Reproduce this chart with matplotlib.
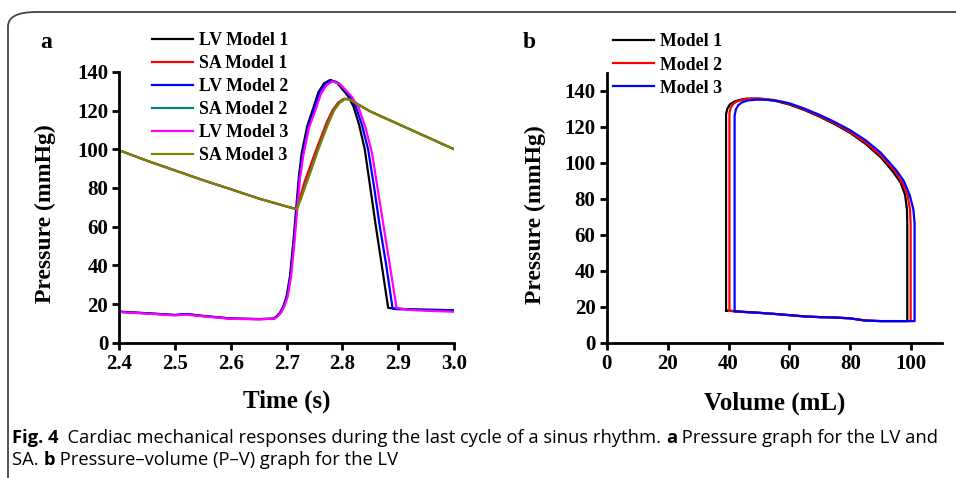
import matplotlib
matplotlib.use("Agg")
import matplotlib.pyplot as plt
from matplotlib.patches import FancyBboxPatch

plt.rcParams['font.family'] = 'Liberation Serif'
plt.rcParams['font.weight'] = 'bold'

# panel a: pressure vs time
t_lv1 = [2.40, 2.45, 2.50, 2.52, 2.55, 2.60, 2.65, 2.676, 2.682, 2.688, 2.694, 2.700, 2.706, 2.712, 2.717,
         2.722, 2.727, 2.737, 2.748, 2.757, 2.767, 2.778, 2.79, 2.80, 2.81, 2.82, 2.83, 2.84, 2.85, 2.86,
         2.87, 2.882, 2.90, 2.95, 3.00]
p_lv1 = [16.0, 15.2, 14.3, 14.8, 13.8, 12.5, 12.2, 12.4, 13.6, 15.5, 18.8, 24, 34.4, 52, 69,
         86, 98, 112, 121.5, 129.5, 134, 135.8, 134.5, 131, 127.5, 122, 112.5, 100, 80, 60,
         41, 18, 17.5, 17.0, 16.8]
t_lv2 = [2.40, 2.45, 2.50, 2.52, 2.55, 2.60, 2.65, 2.677, 2.683, 2.689, 2.695, 2.701, 2.707, 2.713, 2.718,
         2.723, 2.729, 2.739, 2.750, 2.759, 2.769, 2.780, 2.792, 2.803, 2.813, 2.824, 2.835, 2.846, 2.857, 2.867,
         2.878, 2.890, 2.90, 2.95, 3.00]
p_lv2 = [16.0, 15.2, 14.3, 14.8, 13.8, 12.5, 12.2, 12.4, 13.6, 15.5, 18.8, 24, 34.4, 52, 69,
         86, 98, 112, 121.5, 129.3, 133.8, 135.5, 134.3, 131, 127.5, 122, 112.5, 100, 80, 60,
         41, 17.6, 17.3, 17.0, 16.8]
t_lv3 = [2.40, 2.45, 2.50, 2.52, 2.55, 2.60, 2.65, 2.678, 2.684, 2.690, 2.696, 2.702, 2.708, 2.714, 2.719,
         2.724, 2.730, 2.740, 2.752, 2.761, 2.771, 2.782, 2.795, 2.806, 2.817, 2.829, 2.841, 2.853, 2.864, 2.875,
         2.885, 2.897, 2.92, 2.95, 3.00]
p_lv3 = [15.8, 15.0, 14.1, 14.5, 13.6, 12.3, 12.1, 12.4, 13.6, 15.5, 18.8, 24, 34.4, 52, 69,
         85, 97, 111, 120.5, 128.3, 133, 135, 133.8, 130.5, 127, 121.5, 111.5, 98, 78, 58,
         40, 18, 17.0, 16.5, 16.0]
t_sa1 = [2.40, 2.45, 2.50, 2.55, 2.60, 2.65, 2.70, 2.718, 2.723, 2.732, 2.742, 2.752, 2.762, 2.772, 2.782,
         2.792, 2.802, 2.812, 2.85, 2.90, 2.95, 3.00]
p_sa1 = [99.4, 94, 89, 84, 79.3, 74.5, 70.4, 69, 74, 83, 91, 99, 106.5, 114, 120, 124, 126, 125.8,
         119.5, 113, 106.5, 100]
t_sa2 = [2.40, 2.45, 2.50, 2.55, 2.60, 2.65, 2.70, 2.718, 2.725, 2.734, 2.744, 2.754, 2.764, 2.774, 2.784,
         2.794, 2.804, 2.812, 2.85, 2.90, 2.95, 3.00]
p_sa2 = [99.4, 94, 89, 84, 79.3, 74.5, 70.4, 69, 74, 82, 90, 98.5, 106, 113.5, 120, 124, 126, 125.8,
         119.5, 113, 106.5, 100]
t_sa3 = [2.40, 2.45, 2.50, 2.55, 2.60, 2.65, 2.70, 2.718, 2.725, 2.735, 2.745, 2.755, 2.765, 2.775, 2.785,
         2.795, 2.805, 2.812, 2.85, 2.90, 2.95, 3.00]
p_sa3 = [99.4, 94, 89, 84, 79.3, 74.5, 70.4, 69, 74, 82, 90, 98.5, 106, 113.5, 120, 124, 126, 125.8,
         119.5, 113, 106.5, 100]

# panel b: P-V loops
v_m1 = [39.2, 39.2, 39.6, 40.5, 42, 44, 46, 50, 55, 60, 65, 70, 75, 80, 85, 90, 94, 96.5, 98, 98.6, 98.7,
        98.7, 95, 90, 85, 80, 75, 70, 65, 60, 55, 50, 45, 42, 39.2]
p_m1 = [17.8, 127, 130, 132.5, 134, 135, 135.6, 135.6, 134.5, 132.3, 129.2, 125.5, 121.3, 116.5, 110.5,
        103, 95, 89, 82, 74, 66, 12, 12, 12, 12.3, 13.5, 14, 14.2, 14.6, 15.3, 16, 16.6, 17.1, 17.5, 17.8]
v_m2 = [40.3, 40.3, 40.7, 41.6, 43, 45, 47, 51, 55, 60, 65, 70, 75, 80, 85, 90, 94.5, 97, 98.8, 99.6, 99.8,
        99.8, 95, 90, 85, 80, 75, 70, 65, 60, 55, 50, 45, 42, 40.3]
p_m2 = [17.8, 127.5, 130.5, 132.8, 134.2, 135.1, 135.5, 135.5, 134.8, 132.6, 129.6, 125.9, 121.8, 117,
        111.2, 104, 95.5, 89, 82, 74, 66, 12, 12, 12, 12.3, 13.5, 14, 14.2, 14.6, 15.3, 16, 16.6, 17.1, 17.5, 17.8]
v_m3 = [42, 42, 42.4, 43.2, 44.5, 46.5, 49, 52, 56, 60, 65, 70, 75, 80, 85, 90, 95, 97.5, 99.5, 100.7, 101.1,
        101.1, 95, 90, 85, 80, 75, 70, 65, 60, 55, 50, 45, 42]
p_m3 = [17.5, 126, 129.5, 132, 133.6, 134.6, 135, 135, 134.4, 133, 130, 126.5, 122.5, 118, 112.5, 105.5,
        96, 90, 82, 74, 66, 12, 12, 12, 12.3, 13.5, 14, 14.2, 14.6, 15.3, 16, 16.6, 17.1, 17.5]

xticks_a = [2.4, 2.5, 2.6, 2.7, 2.8, 2.9, 3.0]
xticks_b = [0, 20, 40, 60, 80, 100]
yticks = [0, 20, 40, 60, 80, 100, 120, 140]

fig = plt.figure(figsize=(9.56, 4.78), dpi=100)
W, H = 956, 478

# rounded frame around the figure
frame = FancyBboxPatch((8 / W, -0.2), 1.2, 1.2 - 12 / H,
                       boxstyle="round,pad=0,rounding_size=0.03", transform=fig.transFigure,
                       facecolor='none', edgecolor='#444444', linewidth=1.3)
fig.patches.append(frame)

ax1 = fig.add_axes([119.3 / W, 1 - 342.7 / H, (454 - 119.3) / W, (342.7 - 71.8) / H])
ax2 = fig.add_axes([606.7 / W, 1 - 342.7 / H, (941.7 - 606.7) / W, (342.7 - 72.7) / H])

lw = 1.6
ax1.plot(t_lv1, p_lv1, color='black', lw=lw, label='LV Model 1')
ax1.plot(t_sa1, p_sa1, color='#ff0000', lw=lw, label='SA Model 1')
ax1.plot(t_lv2, p_lv2, color='#0000ff', lw=lw, label='LV Model 2')
ax1.plot(t_sa2, p_sa2, color='#008080', lw=lw, label='SA Model 2')
ax1.plot(t_lv3, p_lv3, color='#ff00ff', lw=lw, label='LV Model 3')
ax1.plot(t_sa3, p_sa3, color='#808000', lw=lw, label='SA Model 3')

ax2.plot(v_m1, p_m1, color='black', lw=lw, label='Model 1')
ax2.plot(v_m2, p_m2, color='#ff0000', lw=lw, label='Model 2')
ax2.plot(v_m3, p_m3, color='#0000ff', lw=lw, label='Model 3')

ax1.set_xlim(2.4, 3.0)
ax1.set_ylim(0, 140)
ax1.set_xticks(xticks_a)
ax1.set_xticklabels(['%.1f' % x for x in xticks_a])
ax2.set_xlim(0, 110)
ax2.set_ylim(0, 150)
ax2.set_xticks(xticks_b)

for ax in (ax1, ax2):
    ax.set_yticks(yticks)
    ax.spines['top'].set_visible(False)
    ax.spines['right'].set_visible(False)
    ax.spines['left'].set_linewidth(2)
    ax.spines['bottom'].set_linewidth(2)
    ax.tick_params(direction='out', length=5, width=2, labelsize=15, pad=3)
    for lab in ax.get_xticklabels() + ax.get_yticklabels():
        lab.set_fontweight('bold')
    ax.set_ylabel('Pressure (mmHg)', fontsize=17, fontweight='bold')

ax1.yaxis.set_label_coords(-0.189, 0.475)
ax2.yaxis.set_label_coords(-0.181, 0.475)
ax1.set_xlabel('Time (s)', fontsize=18, fontweight='bold', labelpad=11)
ax2.set_xlabel('Volume (mL)', fontsize=18, fontweight='bold', labelpad=13)

leg_kw = dict(loc='upper left', bbox_transform=fig.transFigure, frameon=False, fontsize=12.9,
              handlelength=2.3, handletextpad=0.3, labelspacing=0.34, borderpad=0, borderaxespad=0)
ax1.legend(bbox_to_anchor=(152 / W, 1 - 32 / H), **leg_kw)
ax2.legend(bbox_to_anchor=(613 / W, 1 - 33.5 / H), **leg_kw)

fig.text(40 / W, 1 - 43 / H, 'a', fontsize=17, fontweight='bold', va='center')
fig.text(523 / W, 1 - 42 / H, 'b', fontsize=17, fontweight='bold', va='center')

# caption, built piece by piece
cap_font = ['Open Sans', 'DejaVu Sans']
renderer = fig.canvas.get_renderer()


def put_pieces(x0, y, pieces):
    x = x0
    for txt, wt in pieces:
        t = fig.text(x / W, 1 - y / H, txt, fontsize=13.2, fontweight=wt, family=cap_font, va='baseline')
        bb = t.get_window_extent(renderer)
        x += bb.width


put_pieces(12, 443, [('Fig. 4', 'bold'), ('  Cardiac mechanical responses during the last cycle of a sinus rhythm. ', 'normal'),
                     ('a', 'bold'), (' Pressure graph for the LV and', 'normal')])
put_pieces(12, 465, [('SA. ', 'normal'), ('b', 'bold'), (' Pressure\u2013volume (P\u2013V) graph for the LV', 'normal')])

fig.savefig('out.png', dpi=100)
